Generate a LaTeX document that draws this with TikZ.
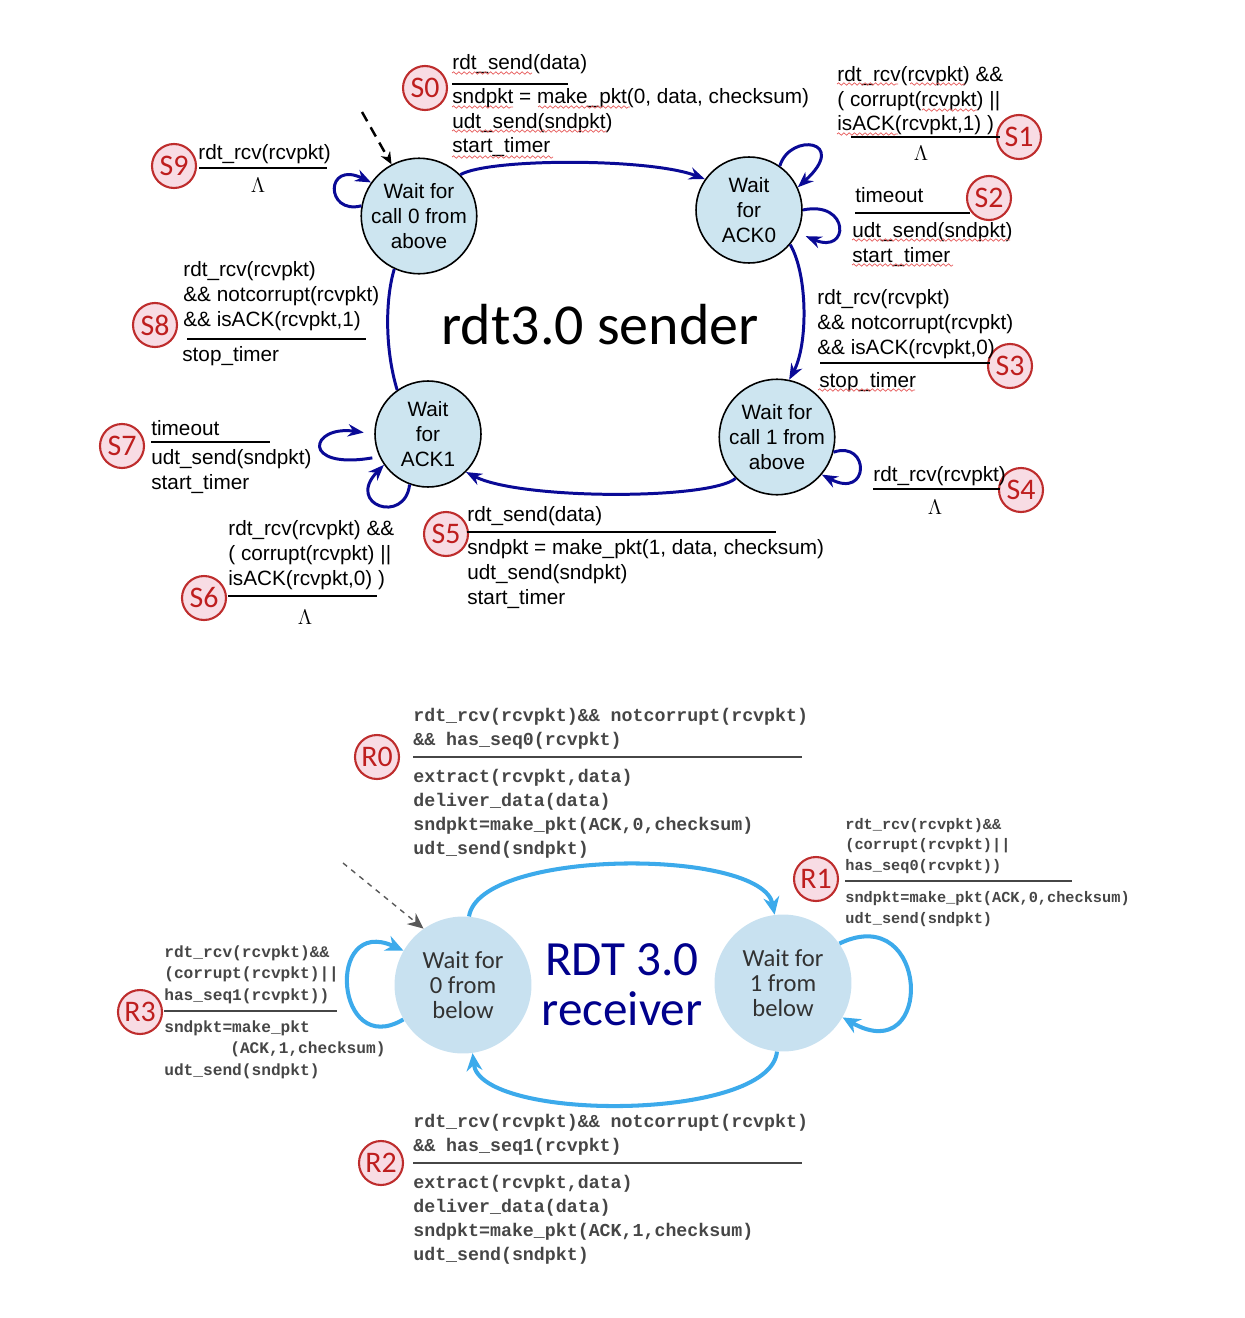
\documentclass[tikz,border=0pt]{standalone}
\usepackage{fontspec}
\setmainfont{Liberation Sans}
\setmonofont{Liberation Mono}
\newfontfamily\calibfont{Carlito}
\usepackage{tikz}
\usetikzlibrary{positioning,arrows.meta,decorations.pathmorphing}
\definecolor{sfill}{RGB}{205,229,240}
\definecolor{sblue}{RGB}{10,10,150}
\definecolor{rfill}{RGB}{200,225,240}
\definecolor{rblue}{RGB}{60,170,235}
\definecolor{rnavy}{RGB}{0,0,140}
\definecolor{rtext}{RGB}{50,50,50}
\definecolor{rcode}{RGB}{70,70,70}
\definecolor{bfill}{RGB}{248,220,228}
\definecolor{bdraw}{RGB}{190,45,45}
\definecolor{btext}{RGB}{190,30,30}
\definecolor{sqred}{RGB}{230,90,90}

\begin{document}
\begin{tikzpicture}[x=0.02cm,y=-0.02cm,
state/.style={draw,circle,line width=0.9pt,fill=sfill,align=center,inner sep=0pt,
    font=\fontsize{11.8}{14.2}\selectfont},
rstate/.style={circle,fill=rfill,align=center,inner sep=0pt,minimum size=2.74cm,text=rtext,
    font=\calibfont\fontsize{14}{14.2}\selectfont},
badge/.style={draw=bdraw,fill=bfill,circle,line width=1.2pt,minimum size=0.88cm,inner sep=0pt,
    text=btext,font=\calibfont\fontsize{17}{17}\selectfont},
lbl/.style={anchor=base west,align=left,inner sep=0pt,font=\fontsize{11.8}{14.2}\selectfont},
rlbl/.style={anchor=base west,align=left,inner sep=0pt,text=rcode,
    font=\ttfamily\bfseries\fontsize{10.4}{13.66}\selectfont},
lam/.style={inner sep=0pt,font=\fontsize{13}{13}\selectfont},
rule/.style={line width=1.4pt},
rrule/.style={line width=0.8pt,draw=rcode},
sarrow/.style={draw=sblue,line width=1.7pt,-{Stealth[length=9pt,width=7pt]}},
rarrow/.style={draw=rblue,line width=2.3pt,-{Stealth[length=10pt,width=9pt]}},
squig/.style={draw=sqred,line width=0.4pt,decorate,decoration={snake,amplitude=0.7,segment length=3}}]
\useasboundingbox (0,0) rectangle (1244,1318);

% sender states
\node (call0) [state,minimum size=2.24cm] at (419,216) {Wait for\\call 0 from\\above};
\node (ack0) [state,minimum size=2.12cm] at (749,210) {Wait\\for\\ACK0};
\node (call1) [state,minimum size=2.16cm] at (777,437) {Wait for\\call 1 from\\above};
\node (ack1) [state,minimum size=2.12cm] at (428,434) {Wait\\for\\ACK1};
\node (stitle) [font=\calibfont\fontsize{33}{33}\selectfont] at (600,325) {rdt3.0 sender};

\coordinate (sinit) at (362,112);
\draw[dashed,line width=1.4pt,dash pattern=on 6pt off 4pt,-{Stealth[length=7pt,width=6pt]}] (sinit) -- (call0.118);

% sender transitions
\draw[sarrow] (call0.45) .. controls (490,158) and (650,158) .. (ack0.145);
\draw[sarrow] (ack0.-40) .. controls (808,275) and (808,345) .. (call1.78);
\draw[sarrow] (call1.225) .. controls (710,500) and (520,500) .. (ack1.-45);
\draw[sarrow,-] (ack1.125) .. controls (385,350) and (385,300) .. (call0.245);
\draw[sarrow] (call0.170) .. controls (325,215) and (325,160) .. (call0.145);
\draw[sarrow] (ack0.55) .. controls (790,132) and (850,140) .. (ack0.25);
\draw[sarrow,shorten >=5pt] (ack0.0) .. controls (850,200) and (850,255) .. (ack0.-25);
\draw[sarrow] (call1.-15) .. controls (870,440) and (870,500) .. (call1.-40);
\draw[sarrow,shorten <=4pt,shorten >=6pt] (ack1.205) .. controls (300,470) and (310,425) .. (ack1.180);
\draw[sarrow] (ack1.250) .. controls (405,525) and (345,505) .. (ack1.215);

% S0 (multi-line labels sit on their last baseline)
\node (bS0) [badge] at (425,88) {S0};
\node (cS0) [lbl] at (452,70) {rdt\_send(data)};
\draw[rule] (452,84) -- (568,84);
\node (aS0) [lbl] at (452,153) {sndpkt = make\_pkt(0, data, checksum)\\udt\_send(sndpkt)\\start\_timer};
\draw[squig] (452,73) -- (532,73);
\draw[squig] (452,107) -- (513,107);
\draw[squig] (538,107) -- (630,107);
\draw[squig] (452,131) -- (607,131);
\draw[squig] (452,157) -- (553,157);
% S1
\node (bS1) [badge] at (1019,137) {S1};
\node (cS1) [lbl] at (837,131) {rdt\_rcv(rcvpkt) \&\&\\( corrupt(rcvpkt) ||\\isACK(rcvpkt,1) )};
\draw[rule] (851,137) -- (1000,137);
\node (aS1) [lam] at (921,153) {$\Lambda$};
\draw[squig] (837,84) -- (898,84);
\draw[squig] (910,84) -- (965,84);
\draw[squig] (922,110) -- (977,110);
\draw[squig] (837,134) -- (898,134);
% S2
\node (bS2) [badge] at (989,198) {S2};
\node (cS2) [lbl] at (855,202) {timeout};
\draw[rule] (855,213) -- (970,213);
\node (aS2) [lbl] at (852,262) {udt\_send(sndpkt)\\start\_timer};
\draw[squig] (852,240) -- (1010,240);
\draw[squig] (852,265) -- (953,265);
% S3
\node (bS3) [badge] at (1010,366) {S3};
\node (cS3) [lbl] at (817,354) {rdt\_rcv(rcvpkt)\\\&\& notcorrupt(rcvpkt)\\\&\& isACK(rcvpkt,0)};
\draw[rule] (820,363) -- (990,363);
\node (aS3) [lbl] at (819,387) {stop\_timer};
\draw[squig] (818,390) -- (915,390);
% S4
\node (bS4) [badge] at (1021,490) {S4};
\node (cS4) [lbl] at (873,481) {rdt\_rcv(rcvpkt)};
\draw[rule] (873,489) -- (1000,489);
\node (aS4) [lam] at (935,507) {$\Lambda$};
% S5
\node (bS5) [badge] at (446,534) {S5};
\node (cS5) [lbl] at (467,521) {rdt\_send(data)};
\draw[rule] (467,532) -- (776,532);
\node (aS5) [lbl] at (467,604) {sndpkt = make\_pkt(1, data, checksum)\\udt\_send(sndpkt)\\start\_timer};
% S6
\node (bS6) [badge] at (204,598) {S6};
\node (cS6) [lbl] at (228,585) {rdt\_rcv(rcvpkt) \&\&\\( corrupt(rcvpkt) ||\\isACK(rcvpkt,0) )};
\draw[rule] (228,596) -- (377,596);
\node (aS6) [lam] at (305,617) {$\Lambda$};
% S7
\node (bS7) [badge] at (122,446) {S7};
\node (cS7) [lbl] at (151,435) {timeout};
\draw[rule] (151,442) -- (270,442);
\node (aS7) [lbl] at (151,489) {udt\_send(sndpkt)\\start\_timer};
% S8
\node (bS8) [badge] at (155,325) {S8};
\node (cS8) [lbl] at (183,326) {rdt\_rcv(rcvpkt)\\\&\& notcorrupt(rcvpkt)\\\&\& isACK(rcvpkt,1)};
\draw[rule] (187,339) -- (366,339);
\node (aS8) [lbl] at (182,361) {stop\_timer};
% S9
\node (bS9) [badge] at (174,166) {S9};
\node (cS9) [lbl] at (198,159) {rdt\_rcv(rcvpkt)};
\draw[rule] (199,168) -- (327,168);
\node (aS9) [lam] at (258,185) {$\Lambda$};

% receiver states
\node (below0) [rstate] at (463,985) {Wait for\\0 from\\below};
\node (below1) [rstate] at (783,983) {Wait for\\1 from\\below};
\node (rtitle) [align=center,text=rnavy,font=\calibfont\fontsize{28}{28.5}\selectfont] at (622,985) {RDT 3.0\\receiver};

\coordinate (rinit) at (343,863);
\draw[dashed,draw=black!65,line width=0.8pt,-{Stealth[length=9pt,width=8pt]}] (rinit) -- (below0.125);

% receiver transitions
\draw[rarrow] (below0.85) .. controls (480,848) and (762,848) .. (below1.97);
\draw[rarrow] (below1.265) .. controls (770,1122) and (480,1122) .. (below0.-82);
\draw[rarrow] (below0.210) .. controls (335,1060) and (325,915) .. (below0.150);
\draw[rarrow] (below1.35) .. controls (930,900) and (935,1070) .. (below1.-30);

% R0
\node (bR0) [badge] at (377,757) {R0};
\node (cR0) [rlbl] at (413,745) {rdt\_rcv(rcvpkt)\&\& notcorrupt(rcvpkt)\\\&\& has\_seq0(rcvpkt)};
\draw[rrule] (413,757) -- (802,757);
\node (aR0) [rlbl] at (413,854) {extract(rcvpkt,data)\\deliver\_data(data)\\sndpkt=make\_pkt(ACK,0,checksum)\\udt\_send(sndpkt)};
% R1
\node (bR1) [badge] at (816,879) {R1};
\node (cR1) [rlbl,font=\ttfamily\bfseries\fontsize{8.7}{11.4}\selectfont] at (845,870) {rdt\_rcv(rcvpkt)\&\&\\(corrupt(rcvpkt)||\\has\_seq0(rcvpkt))};
\draw[rrule] (845,881) -- (1072,881);
\node (aR1) [rlbl,font=\ttfamily\bfseries\fontsize{8.7}{11.4}\selectfont] at (845,923) {sndpkt=make\_pkt(ACK,0,checksum)\\udt\_send(sndpkt)};
% R2
\node (bR2) [badge] at (381,1163) {R2};
\node (cR2) [rlbl] at (413,1151) {rdt\_rcv(rcvpkt)\&\& notcorrupt(rcvpkt)\\\&\& has\_seq1(rcvpkt)};
\draw[rrule] (413,1163) -- (802,1163);
\node (aR2) [rlbl] at (413,1260) {extract(rcvpkt,data)\\deliver\_data(data)\\sndpkt=make\_pkt(ACK,1,checksum)\\udt\_send(sndpkt)};
% R3
\node (bR3) [badge] at (140,1012) {R3};
\node (cR3) [rlbl,font=\ttfamily\bfseries\fontsize{9.2}{12}\selectfont] at (164,1000) {rdt\_rcv(rcvpkt)\&\&\\(corrupt(rcvpkt)||\\has\_seq1(rcvpkt))};
\draw[rrule] (164,1011) -- (337,1011);
\node (aR3) [rlbl,font=\ttfamily\bfseries\fontsize{9.2}{12}\selectfont] at (164,1075) {sndpkt=make\_pkt\\\hspace*{1.32cm}(ACK,1,checksum)\\udt\_send(sndpkt)};
\end{tikzpicture}
\end{document}
